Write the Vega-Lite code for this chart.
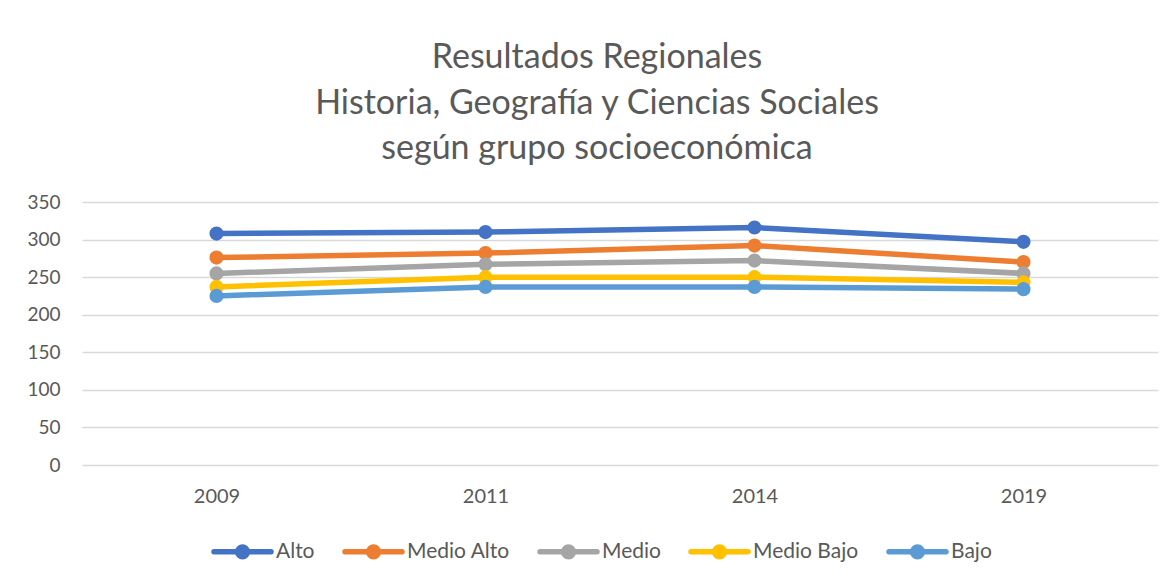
{
  "$schema": "https://vega.github.io/schema/vega-lite/v6.json",
  "autosize": {"type": "none"},
  "padding": {"left": 82, "top": 202, "right": 11, "bottom": 116},
  "width": 1076,
  "height": 263,
  "background": "white",
  "config": {
    "font": "Lato",
    "view": {"stroke": null}
  },
  "title": {
    "text": ["Resultados Regionales", "Historia, Geografía y Ciencias Sociales", "según grupo socioeconómica"],
    "fontSize": 34,
    "fontWeight": "normal",
    "color": "#595959",
    "font": "Lato",
    "lineHeight": 45.5,
    "anchor": "middle",
    "dx": -23,
    "offset": 27
  },
  "data": {
    "values": [
      {"year": "2009", "grupo": "Alto", "valor": 308},
      {"year": "2011", "grupo": "Alto", "valor": 310},
      {"year": "2014", "grupo": "Alto", "valor": 316},
      {"year": "2019", "grupo": "Alto", "valor": 297},
      {"year": "2009", "grupo": "Medio Alto", "valor": 276},
      {"year": "2011", "grupo": "Medio Alto", "valor": 282},
      {"year": "2014", "grupo": "Medio Alto", "valor": 292},
      {"year": "2019", "grupo": "Medio Alto", "valor": 270},
      {"year": "2009", "grupo": "Medio", "valor": 255},
      {"year": "2011", "grupo": "Medio", "valor": 267},
      {"year": "2014", "grupo": "Medio", "valor": 272},
      {"year": "2019", "grupo": "Medio", "valor": 255},
      {"year": "2009", "grupo": "Medio Bajo", "valor": 237},
      {"year": "2011", "grupo": "Medio Bajo", "valor": 250},
      {"year": "2014", "grupo": "Medio Bajo", "valor": 250},
      {"year": "2019", "grupo": "Medio Bajo", "valor": 243},
      {"year": "2009", "grupo": "Bajo", "valor": 225},
      {"year": "2011", "grupo": "Bajo", "valor": 237},
      {"year": "2014", "grupo": "Bajo", "valor": 237},
      {"year": "2019", "grupo": "Bajo", "valor": 234}
    ]
  },
  "encoding": {
    "x": {
      "field": "year", "type": "ordinal",
      "scale": {"type": "point", "padding": 0.5},
      "axis": {
        "title": null, "labelAngle": 0, "ticks": false, "domain": false, "grid": false,
        "labelFontSize": 20, "labelColor": "#595959", "labelPadding": 21, "labelFont": "Lato"
      }
    },
    "y": {
      "field": "valor", "type": "quantitative",
      "scale": {"domain": [0, 350], "nice": false},
      "axis": {
        "title": null, "values": [0, 50, 100, 150, 200, 250, 300, 350], "ticks": false, "domain": false,
        "grid": true, "gridColor": "#d9d9d9", "gridWidth": 1.3,
        "labelFontSize": 19, "labelColor": "#595959", "labelPadding": 22, "labelFont": "Lato"
      }
    },
    "color": {
      "field": "grupo", "type": "nominal",
      "sort": ["Alto", "Medio Alto", "Medio", "Medio Bajo", "Bajo"],
      "scale": {
        "domain": ["Alto", "Medio Alto", "Medio", "Medio Bajo", "Bajo"],
        "range": ["#4472C4", "#ED7D31", "#A5A5A5", "#FFC000", "#5B9BD5"]
      },
      "legend": {
        "title": null,
        "orient": "none",
        "direction": "horizontal",
        "legendX": 129,
        "legendY": 318,
        "labelFontSize": 21,
        "labelColor": "#595959",
        "labelFont": "Lato",
        "labelOffset": 2,
        "columnPadding": 19,
        "symbolType": "M-1,0H1M-0.17,0A0.17,0.17,0,1,1,0.17,0A0.17,0.17,0,1,1,-0.17,0",
        "symbolSize": 3249,
        "symbolStrokeWidth": 5.5,
        "encode": {
          "symbols": {
            "update": {
              "fill": {"scale": "color", "field": "value"},
              "stroke": {"scale": "color", "field": "value"},
              "opacity": {"value": 1},
              "strokeCap": {"value": "round"}
            }
          }
        }
      }
    }
  },
  "layer": [
    {"mark": {"type": "line", "strokeWidth": 5.5, "strokeCap": "round"}},
    {"mark": {"type": "point", "filled": true, "size": 200, "opacity": 1}, "encoding": {}}
  ]
}
